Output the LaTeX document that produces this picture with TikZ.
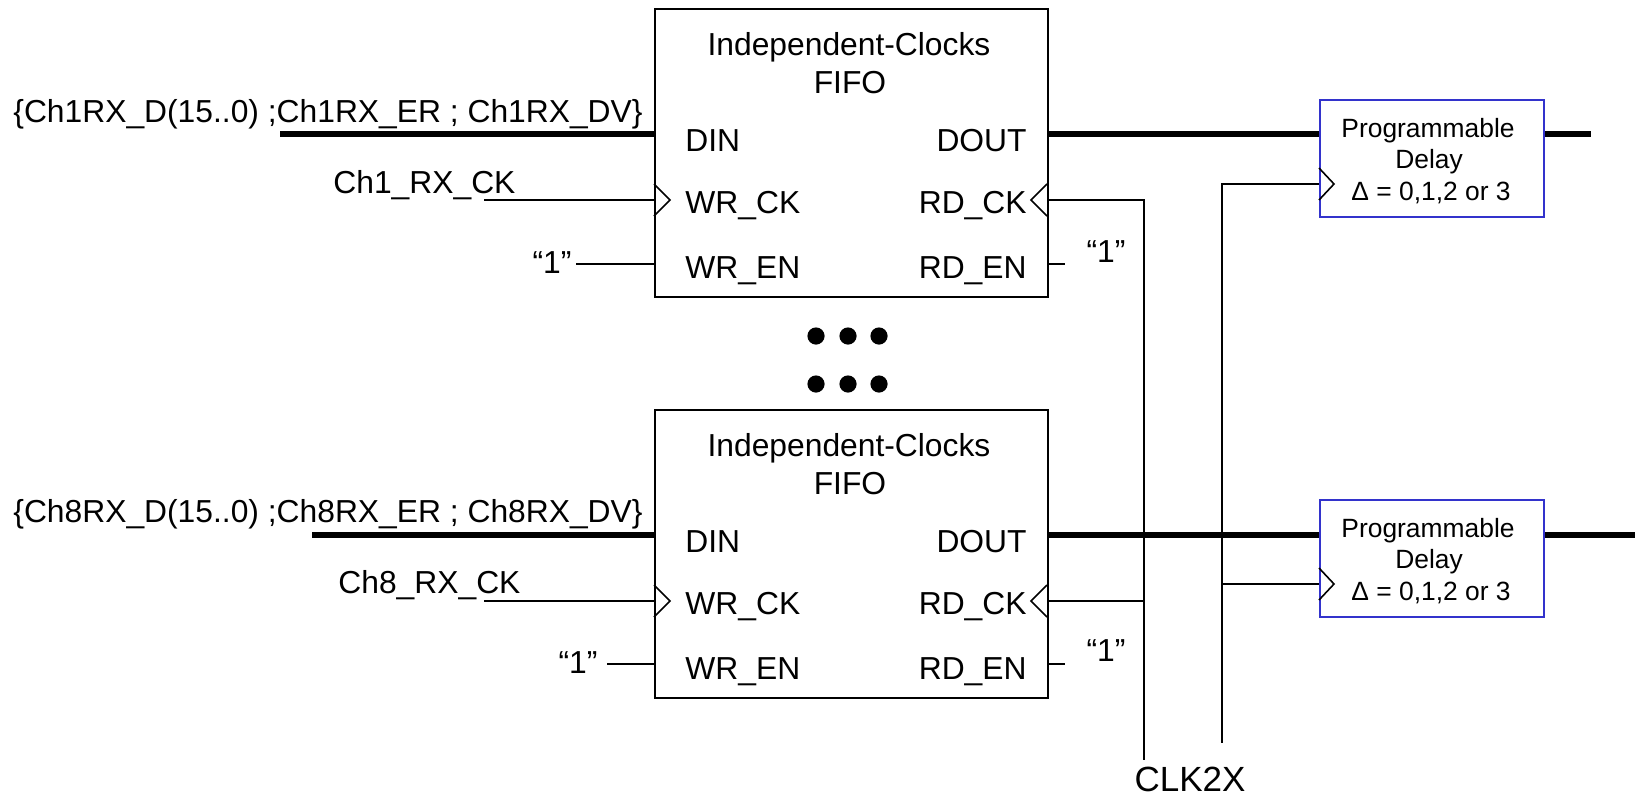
\documentclass[tikz,border=0pt]{standalone}
\usepackage{fontspec}
\setmainfont{Liberation Sans}
\definecolor{dblue}{RGB}{51,51,204}
\newcommand\fbig{\fontsize{15.9}{19}\selectfont}
\newcommand\fsmall{\fontsize{13.2}{16}\selectfont}
\newcommand\fclk{\fontsize{17.5}{21}\selectfont}
\begin{document}
\begin{tikzpicture}[x=0.5pt,y=-0.5pt,
  fifo/.style={draw,line width=1pt,anchor=north west,minimum width=196.5pt,minimum height=144pt,inner sep=0pt},
  delaybox/.style={draw=dblue,line width=1pt,anchor=north west,minimum width=112pt,minimum height=58.5pt,inner sep=0pt},
  txt/.style={font=\fbig,inner sep=0pt},
  stxt/.style={font=\fsmall,inner sep=0pt},
  bus/.style={line width=3pt},
  wire/.style={line width=0.8pt}]
\useasboundingbox (0,0) rectangle (1635,799);

% ---------- FIFO 1 ----------
\node[fifo] (f1) at (654,8) {};
\node[txt,anchor=base] (f1t) at (849,55) {Independent-Clocks};
\node[txt,anchor=base] (f1u) at (850,93) {FIFO};
\node[txt,anchor=base west] (f1pdin) at (685,151) {DIN};
\node[txt,anchor=base east] (f1pdout) at (1027,151) {DOUT};
\node[txt,anchor=base west] (f1pwrck) at (685,213) {WR\_CK};
\node[txt,anchor=base east] (f1prdck) at (1027,213) {RD\_CK};
\node[txt,anchor=base west] (f1pwren) at (685,278) {WR\_EN};
\node[txt,anchor=base east] (f1pren) at (1027,278) {RD\_EN};
\coordinate (f1din) at (654,133.5);
\coordinate (f1dout) at (1047,133.5);
\coordinate (f1wr) at (654,200);
\coordinate (f1rd) at (1047,200);
\coordinate (f1wen) at (654,264);
\coordinate (f1ren) at (1047,264);

\node[txt,anchor=base west] (in1lab) at (13,122) {\{Ch1RX\_D(15..0) ;Ch1RX\_ER ; Ch1RX\_DV\}};
\coordinate (in1) at (280,133.5);
\draw[bus] (in1) -- (f1din);
\node[txt,anchor=base west] (ck1lab) at (333,193) {Ch1\_RX\_CK};
\coordinate (ck1) at (484,200);
\draw[wire] (ck1) -- (f1wr);
\draw[wire] (f1wr) ++(0,-16) -- ++(16,16) -- ++(-16,16);
\node[txt,anchor=base] (one1) at (552,273) {“1”};
\coordinate (one1e) at (576,264);
\draw[wire] (one1e) -- (f1wen);
\draw[wire] (f1rd) ++(0,-16) -- ++(-16,16) -- ++(16,16);
\coordinate (f1renx) at (1065,264);
\draw[wire] (f1ren) -- (f1renx);
\node[txt,anchor=base] (one1r) at (1106,262) {“1”};

% ---------- FIFO 8 ----------
\node[fifo] (f8) at (654,409) {};
\node[txt,anchor=base] (f8t) at (849,456) {Independent-Clocks};
\node[txt,anchor=base] (f8u) at (850,494) {FIFO};
\node[txt,anchor=base west] (f8pdin) at (685,552) {DIN};
\node[txt,anchor=base east] (f8pdout) at (1027,552) {DOUT};
\node[txt,anchor=base west] (f8pwrck) at (685,614) {WR\_CK};
\node[txt,anchor=base east] (f8prdck) at (1027,614) {RD\_CK};
\node[txt,anchor=base west] (f8pwren) at (685,679) {WR\_EN};
\node[txt,anchor=base east] (f8pren) at (1027,679) {RD\_EN};
\coordinate (f8din) at (654,535);
\coordinate (f8dout) at (1047,535);
\coordinate (f8wr) at (654,601);
\coordinate (f8rd) at (1047,601);
\coordinate (f8wen) at (654,664);
\coordinate (f8ren) at (1047,664);

\node[txt,anchor=base west] (in8lab) at (13,522) {\{Ch8RX\_D(15..0) ;Ch8RX\_ER ; Ch8RX\_DV\}};
\coordinate (in8) at (312,535);
\draw[bus] (in8) -- (f8din);
\node[txt,anchor=base west] (ck8lab) at (338,593) {Ch8\_RX\_CK};
\coordinate (ck8) at (484,601);
\draw[wire] (ck8) -- (f8wr);
\draw[wire] (f8wr) ++(0,-16) -- ++(16,16) -- ++(-16,16);
\node[txt,anchor=base] (one8) at (578,673) {“1”};
\coordinate (one8e) at (607,664);
\draw[wire] (one8e) -- (f8wen);
\draw[wire] (f8rd) ++(0,-16) -- ++(-16,16) -- ++(16,16);
\coordinate (f8renx) at (1065,664);
\draw[wire] (f8ren) -- (f8renx);
\node[txt,anchor=base] (one8r) at (1106,661) {“1”};

% ---------- dots ----------
\foreach \x in {816,848,879}{
  \fill (\x,336) circle (4.3pt);
  \fill (\x,384) circle (4.3pt);
}

% ---------- delay boxes ----------
\node[delaybox] (d1) at (1319,99) {};
\node[stxt,anchor=base] (d1a) at (1428,137) {Programmable};
\node[stxt,anchor=base] (d1b) at (1429,168) {Delay};
\node[stxt,anchor=base] (d1c) at (1431,200) {Δ = 0,1,2 or 3};
\coordinate (d1ck) at (1319,184);
\draw[wire] (d1ck) ++(0,-16) -- ++(15,16) -- ++(-15,16);

\node[delaybox] (d8) at (1319,499) {};
\node[stxt,anchor=base] (d8a) at (1428,537) {Programmable};
\node[stxt,anchor=base] (d8b) at (1429,568) {Delay};
\node[stxt,anchor=base] (d8c) at (1431,600) {Δ = 0,1,2 or 3};
\coordinate (d8ck) at (1319,584);
\draw[wire] (d8ck) ++(0,-16) -- ++(15,16) -- ++(-15,16);

\coordinate (out1) at (1591,133.5);
\coordinate (out8) at (1635,535);
\draw[bus] (f1dout) -- (d1.west |- f1dout);
\draw[bus] (d1.east |- f1dout) -- (out1);
\draw[bus] (f8dout) -- (d8.west |- f8dout);
\draw[bus] (d8.east |- f8dout) -- (out8);

% ---------- clock distribution ----------
\coordinate (cA) at (1144,200);
\coordinate (cAb) at (1144,760);
\coordinate (cB) at (1222,184);
\coordinate (cBb) at (1222,743);
\draw[wire] (f1rd) -- (cA) -- (cAb);
\draw[wire] (f8rd) -- (cA |- f8rd);
\draw[wire] (d1ck) -- (cB) -- (cBb);
\draw[wire] (cB |- d8ck) -- (d8ck);
\node[font=\fclk,inner sep=0pt,anchor=base] (clk) at (1190,791) {CLK2X};
\end{tikzpicture}
\end{document}
